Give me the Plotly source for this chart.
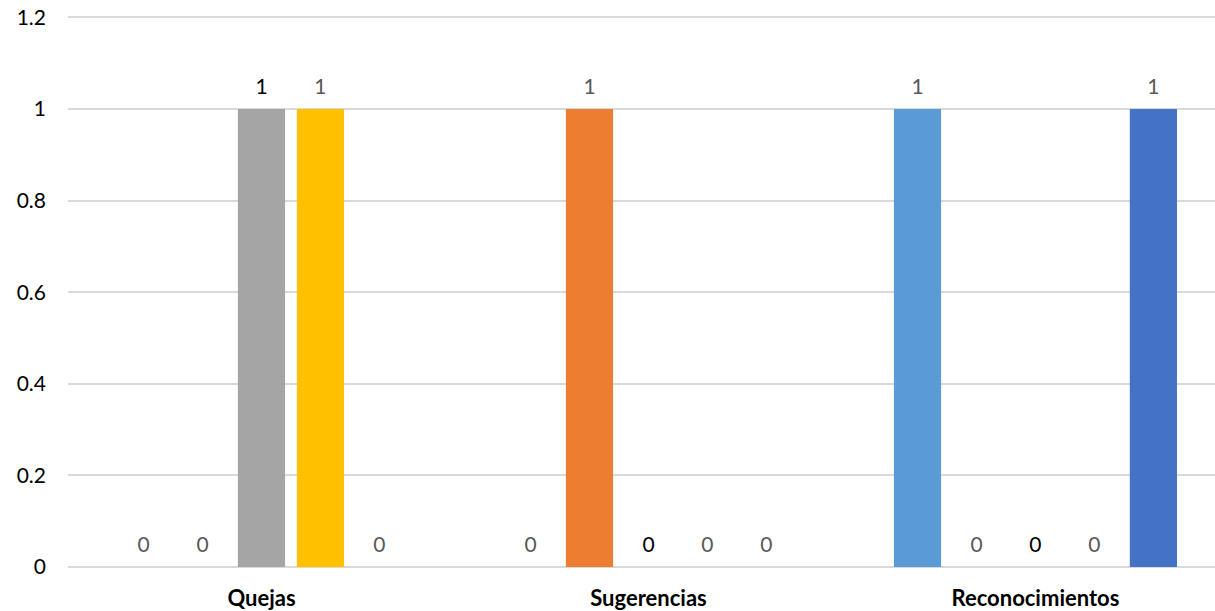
import plotly.graph_objects as go

categories = ["Quejas", "Sugerencias", "Reconocimientos"]
series_names = ["Serie 1", "Serie 2", "Serie 3", "Serie 4", "Serie 5"]
series_values = [
    [0, 0, 1],
    [0, 1, 0],
    [1, 0, 0],
    [1, 0, 0],
    [0, 0, 1],
]
series_colors = ["#5B9BD5", "#ED7D31", "#A5A5A5", "#FFC000", "#4472C4"]
label_colors = ["#595959", "#595959", "#000000", "#595959", "#595959"]
y_ticks = [0, 0.2, 0.4, 0.6, 0.8, 1, 1.2]
y_tick_text = ["0", "0.2", "0.4", "0.6", "0.8", "1", "1.2"]

FONT = "Lato, 'Open Sans', sans-serif"

fig = go.Figure()
for name, vals, col, lcol in zip(series_names, series_values, series_colors, label_colors):
    fig.add_trace(go.Bar(
        name=name,
        x=categories,
        y=vals,
        marker=dict(color=col, line=dict(width=0)),
        text=[f"<span style='font-size:21px'>{v}</span><br> " for v in vals],
        textposition="outside",
        cliponaxis=False,
        textfont=dict(family=FONT, size=8, color=lcol),
        hoverinfo="x+y+name",
    ))

fig.update_layout(
    width=1215,
    height=611,
    margin=dict(l=68, r=0, t=15, b=44, autoexpand=False),
    paper_bgcolor="white",
    plot_bgcolor="white",
    barmode="group",
    bargap=0.238,
    bargroupgap=0.2,
    showlegend=False,
    font=dict(family=FONT, size=21, color="#404040"),
    xaxis=dict(
        type="category",
        range=[-0.5, 2.464],
        showgrid=False,
        showline=False,
        ticks="",
        ticklabelstandoff=16,
        tickfont=dict(family=FONT, size=22, color="#000000", weight="bold"),
    ),
    yaxis=dict(
        range=[0, 1.205],
        tickvals=y_ticks,
        ticktext=y_tick_text,
        showgrid=True,
        gridcolor="#D9D9D9",
        gridwidth=2,
        zeroline=True,
        zerolinecolor="#D9D9D9",
        zerolinewidth=2,
        showline=False,
        ticks="",
        ticklabelstandoff=21,
        ticklabeloverflow="allow",
        tickfont=dict(family=FONT, size=21, color="#000000"),
    ),
)

fig.write_html(
    "out.html",
    config={"displayModeBar": False},
    post_script="document.body.style.margin='0';document.body.style.overflow='hidden';",
)
